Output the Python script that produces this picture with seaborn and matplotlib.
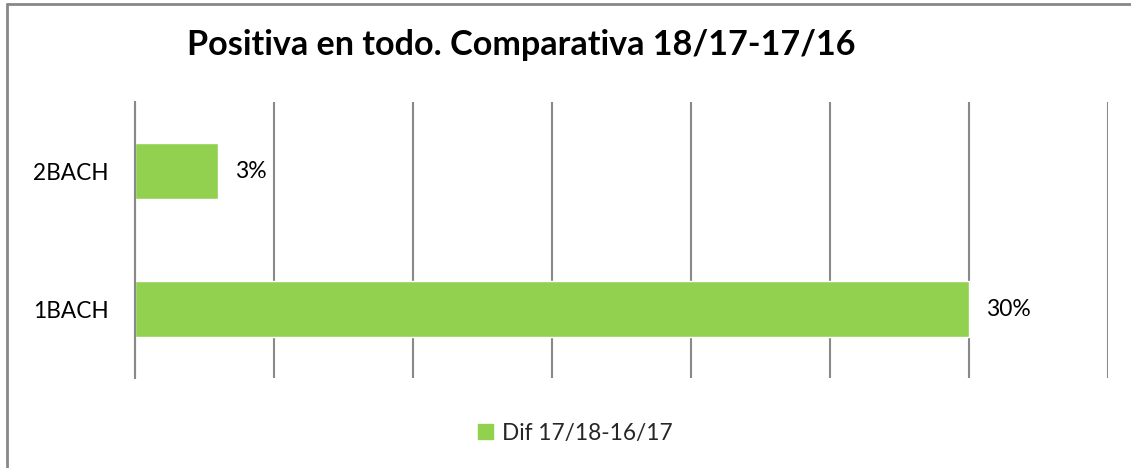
import matplotlib
matplotlib.use("Agg")
import matplotlib.pyplot as plt
import matplotlib.patches as mpatches
import matplotlib.lines as mlines
import seaborn as sns
import pandas as pd

categories = ["2BACH", "1BACH"]
values = [3, 30]
series_name = "Dif 17/18-16/17"
title = "Positiva en todo. Comparativa 18/17-17/16"

green = "#92D050"
grid_gray = "#898989"

sns.set_theme(style="white")
plt.rcParams["font.family"] = ["Lato", "DejaVu Sans"]

df = pd.DataFrame({"grupo": categories, "valor": values})

fig = plt.figure(figsize=(11.31, 4.68), dpi=100)
ax = fig.add_axes([135 / 1131, 1 - 378 / 468, (1108 - 135) / 1131, (378 - 102) / 468])

sns.barplot(data=df, x="valor", y="grupo", orient="h", color=green,
            saturation=1, width=0.4, ax=ax)

ax.set_xlim(0, 35)
ax.set_ylim(1.5, -0.5)
ax.set_xticks(range(0, 36, 5))
ax.set_xticklabels([])
ax.tick_params(axis="x", length=0)
ax.tick_params(axis="y", length=0, pad=19, labelsize=16.3, labelcolor="#000000")
ax.xaxis.grid(True, color=grid_gray, linewidth=1.5)
ax.yaxis.grid(False)
ax.set_xlabel("")
ax.set_ylabel("")
for side in ["top", "right", "bottom"]:
    ax.spines[side].set_visible(False)
ax.spines["left"].set_visible(True)
ax.spines["left"].set_color(grid_gray)
ax.spines["left"].set_linewidth(1.5)

for container in ax.containers:
    ax.bar_label(container, labels=[f"{v}%" for v in values], padding=12,
                 fontsize=16.5, color="#000000")

fig.text(0.461, 0.904, title, ha="center", va="center", fontsize=24.6,
         fontweight="bold", color="#000000")

handle = mpatches.Patch(color=green, label=series_name)
fig.legend(handles=[handle], loc="center", bbox_to_anchor=(0.509, 0.074),
           frameon=False, fontsize=16.3, handlelength=0.65, handleheight=0.65,
           handletextpad=0.4)

# chart frame: only its top and left edges fall inside the image
frame_x = 6.5 / 1131
frame_y = 1 - 3.5 / 468
fig.lines.append(mlines.Line2D([frame_x, 1], [frame_y, frame_y],
                               transform=fig.transFigure, color="#888888", linewidth=2))
fig.lines.append(mlines.Line2D([frame_x, frame_x], [0, frame_y],
                               transform=fig.transFigure, color="#888888", linewidth=2))

fig.savefig("out.png", dpi=100, facecolor="white")
